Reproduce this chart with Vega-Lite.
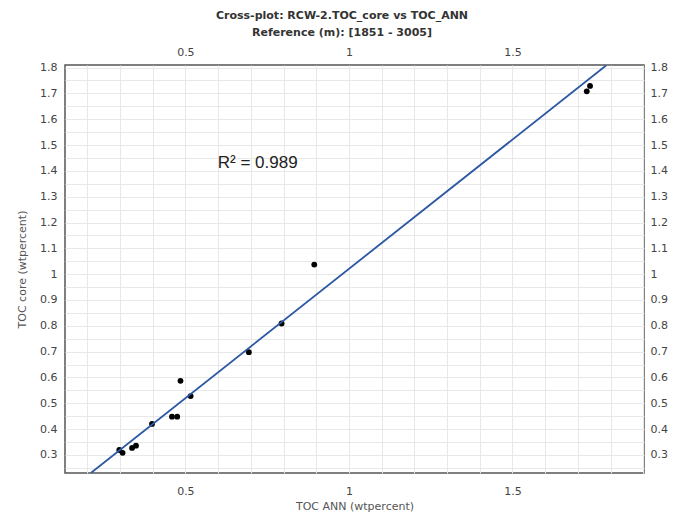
{
  "$schema": "https://vega.github.io/schema/vega-lite/v6.json",
  "autosize": {"type": "none"},
  "padding": {"left": 65, "top": 65, "right": 38, "bottom": 43},
  "width": 579,
  "height": 408,
  "background": "white",
  "config": {
    "view": {"stroke": "#555555", "strokeWidth": 1.5},
    "font": "DejaVu Sans",
    "axis": {"ticks": false, "domain": false, "labelFont": "DejaVu Sans", "labelFontSize": 11, "labelColor": "#444444", "titleFont": "DejaVu Sans", "titleFontSize": 11, "titleFontWeight": "normal", "titleColor": "#555555", "gridColor": "#e8e8e8", "gridWidth": 1}
  },
  "title": {
    "text": ["Cross-plot: RCW-2.TOC_core vs TOC_ANN", "Reference (m): [1851 - 3005]"],
    "font": "DejaVu Sans",
    "fontSize": 11,
    "fontWeight": "bold",
    "color": "#333333",
    "anchor": "middle",
    "frame": "bounds",
    "offset": 8,
    "lineHeight": 17
  },
  "datasets": {
    "points": [
      {"toc_ann": 0.298, "toc_core": 0.319},
      {"toc_ann": 0.308, "toc_core": 0.308},
      {"toc_ann": 0.337, "toc_core": 0.327},
      {"toc_ann": 0.349, "toc_core": 0.336},
      {"toc_ann": 0.398, "toc_core": 0.42},
      {"toc_ann": 0.459, "toc_core": 0.448},
      {"toc_ann": 0.475, "toc_core": 0.448},
      {"toc_ann": 0.485, "toc_core": 0.587},
      {"toc_ann": 0.516, "toc_core": 0.528},
      {"toc_ann": 0.694, "toc_core": 0.698},
      {"toc_ann": 0.794, "toc_core": 0.809},
      {"toc_ann": 0.894, "toc_core": 1.037},
      {"toc_ann": 1.737, "toc_core": 1.729},
      {"toc_ann": 1.727, "toc_core": 1.708}
    ],
    "fit": [
      {"toc_ann": 0.211, "toc_core": 0.23},
      {"toc_ann": 1.786, "toc_core": 1.808}
    ],
    "label": [
      {"toc_ann": 0.599, "toc_core": 1.429, "text": "R² = 0.989"}
    ]
  },
  "layer": [
    {
      "data": {"name": "points"},
      "mark": {"type": "circle", "color": "black", "opacity": 1, "size": 34},
      "encoding": {
        "x": {"field": "toc_ann", "type": "quantitative", "scale": {"domain": [0.132, 1.902], "nice": false, "zero": false},
          "axis": {"orient": "bottom", "title": "TOC ANN (wtpercent)", "values": [0.2, 0.3, 0.4, 0.5, 0.6, 0.7, 0.8, 0.9, 1, 1.1, 1.2, 1.3, 1.4, 1.5, 1.6, 1.7, 1.8, 1.9],
            "labelExpr": "round(datum.value*10)%5==0 ? format(datum.value, '~g') : ''", "labelPadding": 12, "titlePadding": 4, "grid": true}},
        "y": {"field": "toc_core", "type": "quantitative", "scale": {"domain": [0.23, 1.81], "nice": false, "zero": false},
          "axis": {"orient": "left", "title": "TOC core (wtpercent)", "values": [0.25, 0.3, 0.35, 0.4, 0.45, 0.5, 0.55, 0.6, 0.65, 0.7, 0.75, 0.8, 0.85, 0.9, 0.95, 1, 1.05, 1.1, 1.15, 1.2, 1.25, 1.3, 1.35, 1.4, 1.45, 1.5, 1.55, 1.6, 1.65, 1.7, 1.75, 1.8],
            "labelExpr": "round(datum.value*100)%10==0 ? format(datum.value, '~g') : ''", "labelPadding": 8, "titlePadding": 12, "grid": true}}
      }
    },
    {
      "data": {"name": "fit"},
      "mark": {"type": "line", "color": "#2b57a3", "strokeWidth": 1.8, "clip": true},
      "encoding": {
        "x": {"field": "toc_ann", "type": "quantitative", "scale": {"domain": [0.132, 1.902], "nice": false, "zero": false},
          "axis": {"orient": "top", "title": null, "values": [0.5, 1, 1.5], "format": "~g", "labelPadding": 8, "grid": false}},
        "y": {"field": "toc_core", "type": "quantitative", "scale": {"domain": [0.23, 1.81], "nice": false, "zero": false},
          "axis": {"orient": "right", "title": null, "values": [0.3, 0.4, 0.5, 0.6, 0.7, 0.8, 0.9, 1, 1.1, 1.2, 1.3, 1.4, 1.5, 1.6, 1.7, 1.8], "format": "~g", "labelPadding": 6, "grid": false}}
      }
    },
    {
      "data": {"name": "label"},
      "mark": {"type": "text", "align": "left", "baseline": "middle", "font": "Liberation Sans", "fontSize": 17, "color": "#222222"},
      "encoding": {
        "x": {"field": "toc_ann", "type": "quantitative", "scale": {"domain": [0.132, 1.902], "nice": false, "zero": false}, "axis": null},
        "y": {"field": "toc_core", "type": "quantitative", "scale": {"domain": [0.23, 1.81], "nice": false, "zero": false}, "axis": null},
        "text": {"field": "text", "type": "nominal"}
      }
    }
  ],
  "resolve": {"scale": {"x": "independent", "y": "independent"}}
}
